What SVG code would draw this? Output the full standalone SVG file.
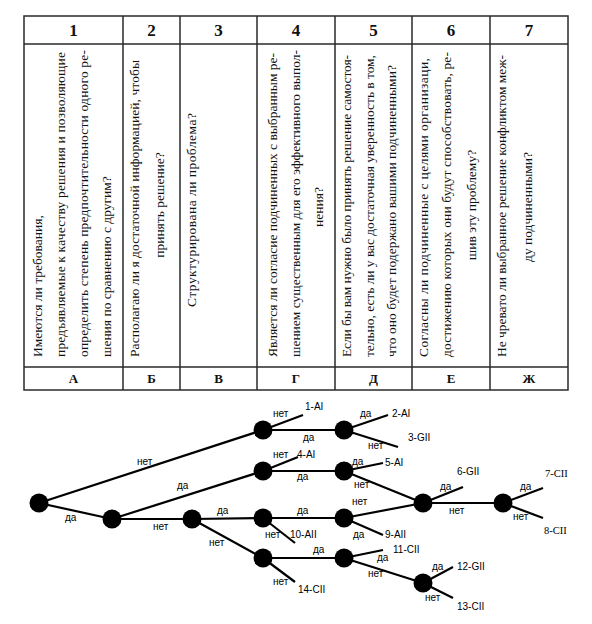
<svg xmlns="http://www.w3.org/2000/svg" width="592" height="624" viewBox="0 0 592 624">
<style>
.grid{stroke:#2a2a2a;stroke-width:1.5;fill:none}
.num{font-family:"Liberation Serif",serif;font-weight:bold;font-size:17px;text-anchor:middle;fill:#111}
.let{font-family:"Liberation Serif",serif;font-weight:bold;font-size:13px;text-anchor:middle;fill:#111}
.q{font-family:"Liberation Serif",serif;font-size:13.5px;fill:#111}
.qm{font-family:"Liberation Serif",serif;font-size:13.5px;fill:#111;text-anchor:middle}
.edge{stroke:#000;stroke-width:2.2;fill:none}
.node{fill:#000}
.lb{font-family:"Liberation Sans",Arial,sans-serif;font-size:10px;fill:#000}
.lbs{font-family:"Liberation Serif",serif;font-size:10.5px;fill:#000}
</style>
<rect width="592" height="624" fill="#fff"/>
<g id="table">
<rect class="grid" x="24" y="16" width="544" height="374"/>
<line class="grid" x1="24" y1="44" x2="568" y2="44"/>
<line class="grid" x1="24" y1="367" x2="568" y2="367"/>
<line class="grid" x1="123" y1="16" x2="123" y2="390"/>
<line class="grid" x1="180" y1="16" x2="180" y2="390"/>
<line class="grid" x1="257" y1="16" x2="257" y2="390"/>
<line class="grid" x1="335" y1="16" x2="335" y2="390"/>
<line class="grid" x1="412" y1="16" x2="412" y2="390"/>
<line class="grid" x1="490" y1="16" x2="490" y2="390"/>
<text class="num" x="73.5" y="36">1</text>
<text class="num" x="151.5" y="36">2</text>
<text class="num" x="218.5" y="36">3</text>
<text class="num" x="296" y="36">4</text>
<text class="num" x="373.5" y="36">5</text>
<text class="num" x="451" y="36">6</text>
<text class="num" x="529" y="36">7</text>
<text class="let" x="73.5" y="383">А</text>
<text class="let" x="151.5" y="383">Б</text>
<text class="let" x="218.5" y="383">В</text>
<text class="let" x="296" y="383">Г</text>
<text class="let" x="373.5" y="383">Д</text>
<text class="let" x="451" y="383">Е</text>
<text class="let" x="529" y="383">Ж</text>
<g id="col1">
<text class="q" transform="translate(42,357) rotate(-90)">Имеются ли требования,</text>
<text class="q" transform="translate(65,357) rotate(-90)" textLength="305" lengthAdjust="spacing">предъявляемые к качеству решения и позволяющие</text>
<text class="q" transform="translate(88,357) rotate(-90)" textLength="307" lengthAdjust="spacing">определить степень предпочтительности одного ре-</text>
<text class="q" transform="translate(111,357) rotate(-90)">шения по сравнению с другим?</text>
</g>
<g id="col2">
<text class="q" transform="translate(139,357) rotate(-90)" textLength="297" lengthAdjust="spacing">Располагаю ли я достаточной информацией, чтобы</text>
<text class="qm" transform="translate(164,205) rotate(-90)">принять решение?</text>
</g>
<g id="col3">
<text class="qm" transform="translate(196,210) rotate(-90)" textLength="194" lengthAdjust="spacing">Структурирована ли проблема?</text>
</g>
<g id="col4">
<text class="q" transform="translate(277,357) rotate(-90)" textLength="304" lengthAdjust="spacing">Является ли согласие подчиненных с выбранным ре-</text>
<text class="q" transform="translate(300,357) rotate(-90)" textLength="307" lengthAdjust="spacing">шением существенным для его эффективного выпол-</text>
<text class="qm" transform="translate(323,207) rotate(-90)">нения?</text>
</g>
<g id="col5">
<text class="q" transform="translate(351,357) rotate(-90)" textLength="302" lengthAdjust="spacing">Если бы вам нужно было принять решение самостоя-</text>
<text class="q" transform="translate(374,357) rotate(-90)" textLength="302" lengthAdjust="spacing">тельно, есть ли у вас достаточная уверенность в том,</text>
<text class="q" transform="translate(396,357) rotate(-90)" textLength="292" lengthAdjust="spacing">что оно будет подержано вашими подчиненными?</text>
</g>
<g id="col6">
<text class="q" transform="translate(428,357) rotate(-90)" textLength="299" lengthAdjust="spacing">Согласны ли подчиненные с целями организаци,</text>
<text class="q" transform="translate(451,357) rotate(-90)" textLength="305" lengthAdjust="spacing">достижению которых они будут способствовать, ре-</text>
<text class="qm" transform="translate(476,205) rotate(-90)">шив эту проблему?</text>
</g>
<g id="col7">
<text class="q" transform="translate(506,357) rotate(-90)" textLength="302" lengthAdjust="spacing">Не чревато ли выбранное решение конфликтом меж-</text>
<text class="qm" transform="translate(532,207) rotate(-90)">ду подчиненными?</text>
</g>
</g>
<g id="connectors">
<line class="edge" x1="39" y1="503" x2="263" y2="430"/>
<line class="edge" x1="39" y1="503" x2="112" y2="519"/>
<line class="edge" x1="112" y1="519" x2="263" y2="471"/>
<line class="edge" x1="112" y1="519" x2="192" y2="519"/>
<line class="edge" x1="192" y1="519" x2="263" y2="518"/>
<line class="edge" x1="192" y1="519" x2="263" y2="558"/>
<line class="edge" x1="263" y1="430" x2="303" y2="415"/>
<line class="edge" x1="263" y1="430" x2="344" y2="430"/>
<line class="edge" x1="344" y1="430" x2="388" y2="415"/>
<line class="edge" x1="344" y1="430" x2="398" y2="447"/>
<line class="edge" x1="263" y1="471" x2="298" y2="457"/>
<line class="edge" x1="263" y1="471" x2="344" y2="471"/>
<line class="edge" x1="344" y1="471" x2="383" y2="463"/>
<line class="edge" x1="344" y1="471" x2="423" y2="503"/>
<line class="edge" x1="263" y1="518" x2="344" y2="518"/>
<line class="edge" x1="263" y1="518" x2="295" y2="543"/>
<line class="edge" x1="344" y1="518" x2="423" y2="503"/>
<line class="edge" x1="344" y1="518" x2="383" y2="535"/>
<line class="edge" x1="263" y1="558" x2="344" y2="558"/>
<line class="edge" x1="263" y1="558" x2="295" y2="582"/>
<line class="edge" x1="344" y1="558" x2="383" y2="550"/>
<line class="edge" x1="344" y1="558" x2="423" y2="583"/>
<line class="edge" x1="423" y1="583" x2="453" y2="567"/>
<line class="edge" x1="423" y1="583" x2="453" y2="598"/>
<line class="edge" x1="423" y1="503" x2="463" y2="487"/>
<line class="edge" x1="423" y1="503" x2="503" y2="503"/>
<line class="edge" x1="503" y1="503" x2="543" y2="488"/>
<line class="edge" x1="503" y1="503" x2="543" y2="518"/>
<g id="edge-labels">
<text class="lb" x="137" y="465">нет</text>
<text class="lb" x="65" y="521">да</text>
<text class="lb" x="177" y="489">да</text>
<text class="lb" x="153" y="530">нет</text>
<text class="lb" x="217" y="514">да</text>
<text class="lb" x="209" y="546">нет</text>
<text class="lb" x="273" y="417">нет</text>
<text class="lb" x="303" y="441">да</text>
<text class="lb" x="360" y="417">да</text>
<text class="lb" x="368" y="449">нет</text>
<text class="lb" x="273" y="458">нет</text>
<text class="lb" x="297" y="480">да</text>
<text class="lb" x="352" y="465">да</text>
<text class="lb" x="354" y="488">нет</text>
<text class="lb" x="440" y="490">да</text>
<text class="lb" x="449" y="514">нет</text>
<text class="lb" x="520" y="490">да</text>
<text class="lb" x="513" y="520">нет</text>
<text class="lb" x="297" y="514">да</text>
<text class="lb" x="265" y="538">нет</text>
<text class="lb" x="352" y="505">нет</text>
<text class="lb" x="353" y="538">да</text>
<text class="lb" x="313" y="553">да</text>
<text class="lb" x="273" y="585">нет</text>
<text class="lb" x="377" y="561">да</text>
<text class="lb" x="368" y="577">нет</text>
<text class="lb" x="432" y="570">да</text>
<text class="lb" x="425" y="601">нет</text>
</g>
</g>
<g id="nodes">
<circle id="n-root" class="node" cx="39" cy="503" r="9.5"/>
<circle id="n2" class="node" cx="112" cy="519" r="9.5"/>
<circle id="n3" class="node" cx="263" cy="430" r="9.5"/>
<circle id="n4" class="node" cx="263" cy="471" r="9.5"/>
<circle id="n5" class="node" cx="192" cy="519" r="9.5"/>
<circle id="n6" class="node" cx="263" cy="518" r="9.5"/>
<circle id="n7" class="node" cx="263" cy="558" r="9.5"/>
<circle id="n8" class="node" cx="344" cy="430" r="9.5"/>
<circle id="n9" class="node" cx="344" cy="471" r="9.5"/>
<circle id="n10" class="node" cx="344" cy="518" r="9.5"/>
<circle id="n11" class="node" cx="344" cy="558" r="9.5"/>
<circle id="n12" class="node" cx="423" cy="503" r="9.5"/>
<circle id="n13" class="node" cx="503" cy="503" r="9.5"/>
<circle id="n14" class="node" cx="423" cy="583" r="9.5"/>
</g>
<g id="leaves">
<text class="lb" x="305" y="410">1-AI</text>
<text class="lb" x="392" y="417">2-AI</text>
<text class="lb" x="408" y="441">3-GII</text>
<text class="lb" x="297" y="458">4-AI</text>
<text class="lb" x="385" y="466">5-AI</text>
<text class="lb" x="457" y="475">6-GII</text>
<text class="lbs" x="545" y="477">7-CII</text>
<text class="lbs" x="544" y="534">8-CII</text>
<text class="lb" x="385" y="538">9-AII</text>
<text class="lb" x="290" y="538">10-AII</text>
<text class="lb" x="393" y="553">11-CII</text>
<text class="lb" x="457" y="570">12-GII</text>
<text class="lb" x="457" y="610">13-CII</text>
<text class="lb" x="298" y="593">14-CII</text>
</g>
</svg>
